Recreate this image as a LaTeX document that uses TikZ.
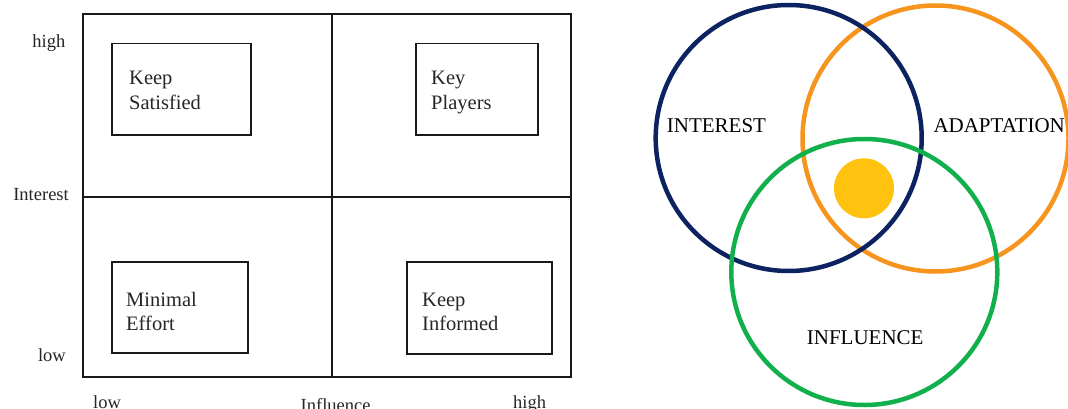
\documentclass[tikz,border=0pt]{standalone}
\usepackage{fontspec}
\setmainfont{Liberation Serif}
\definecolor{navy}{HTML}{0C2261}
\definecolor{vorange}{HTML}{F7941D}
\definecolor{vgreen}{HTML}{12B04C}
\definecolor{vyellow}{HTML}{FFC20E}
\begin{document}
\begin{tikzpicture}[x=1pt,y=-1pt,
  gridline/.style={line width=2.2pt,black!90},
  quadbox/.style={draw=black!90,line width=1.8pt},
  boxtext/.style={anchor=base west,inner sep=0pt,align=left,text=black!85,font=\fontsize{20.5}{24.3}\selectfont},
  axistext/.style={inner sep=0pt,text=black!85,font=\fontsize{18.5}{22}\selectfont},
  ring/.style={line width=4.5pt},
  venntext/.style={anchor=base west,inner sep=0pt,text=black,font=\fontsize{21}{24}\selectfont}]
\useasboundingbox (0,0) rectangle (1068,409);
\clip (0,0) rectangle (1068,409);
% grid
\draw[gridline] (82.7,14) rectangle (570.7,376.7);
\draw[gridline] (331.7,14) -- (331.7,376.7);
\draw[gridline] (82.7,197.3) -- (570.7,197.3);
% quadrant boxes
\draw[quadbox] (111.7,43.5) rectangle (251,135);
\draw[quadbox] (416,43.5) rectangle (537.7,135);
\draw[quadbox] (111.7,261.7) rectangle (248.3,353.3);
\draw[quadbox] (406.7,261.7) rectangle (552.3,354);
\node[boxtext] (ks) at (129,109.3) {Keep\\Satisfied};
\node[boxtext] (kp) at (431,109.3) {Key\\Players};
\node[boxtext] (me) at (126,330.5) {Minimal\\Effort};
\node[boxtext] (ki) at (422,330.5) {Keep\\Informed};
% axis labels
\node[axistext,anchor=base east] (yhigh) at (65.5,48) {high};
\node[axistext,anchor=base east] (yint) at (69,200) {Interest};
\node[axistext,anchor=base east] (ylow) at (66,361.5) {low};
\node[axistext,anchor=base west] (xlow) at (93,408) {low};
\node[axistext,anchor=base west] (xinf) at (300.5,411) {Influence};
\node[axistext,anchor=base west] (xhigh) at (513,408) {high};
% Venn
\draw[ring,draw=vorange] (935.5,138.5) circle[radius=133pt];
\draw[ring,draw=navy] (788.7,138) circle[radius=133pt];
\draw[ring,draw=vgreen] (864.3,272) circle[radius=133pt];
\fill[vyellow] (864,188.3) circle[radius=30pt];
\node[venntext] (tint) at (666.7,132.7) {INTEREST};
\node[venntext] (tada) at (933.3,133) {ADAPTATION};
\node[venntext] (tinf) at (806.7,344) {INFLUENCE};
\end{tikzpicture}
\end{document}
